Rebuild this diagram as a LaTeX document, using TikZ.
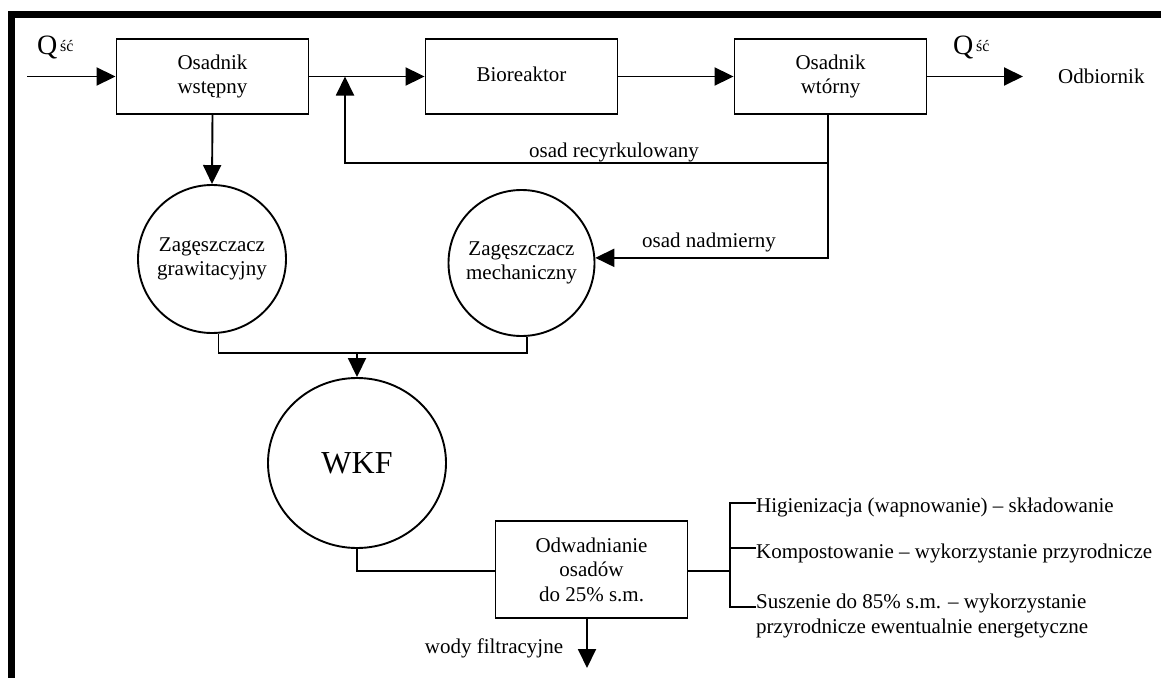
\documentclass[tikz,border=0pt]{standalone}
\usepackage{fontspec}
\setmainfont{Liberation Serif}
\usetikzlibrary{arrows.meta,shapes.geometric}
\begin{document}
\begin{tikzpicture}[x=1pt,y=-1pt,
  every node/.style={font=\fontsize{21}{24.5}\selectfont},
  ln/.style={line width=1.9pt},
  arr/.style={ln,-{Triangle[length=19pt,width=18pt]}},
  boxn/.style={draw,ln,rectangle,minimum width=192pt,inner sep=0pt,align=center},
  circn/.style={draw,ln,circle,inner sep=0pt,align=center},
  txt/.style={inner sep=0pt}
]
\useasboundingbox (0,0) rectangle (1161,677);
% frame
\draw[line width=7.5pt,line join=miter] (11.5,680) -- (11.5,14.5) -- (1170,14.5);

% top row boxes
\node[boxn,minimum height=75pt] (osw) at (212.5,76.5) {Osadnik\\wstępny};
\node[boxn,minimum height=75pt] (bio) at (521.5,76.5) {\raisebox{4pt}{Bioreaktor}};
\node[boxn,minimum height=75pt] (osw2) at (830.5,76.5) {Osadnik\\wtórny};

% circles
\node[circn,minimum size=148pt] (grav) at (212,259) {Zagęszczacz\\grawitacyjny};
\node[circn,minimum size=146pt] (mech) at (521.5,263) {Zagęszczacz\\mechaniczny};
\node[draw,ln,ellipse,inner sep=0pt,minimum width=178pt,minimum height=170pt,
      font=\fontsize{32}{36}\selectfont] (wkf) at (357,463) {WKF};

% dewatering box
\node[boxn,minimum height=97pt] (odw) at (591.5,569.5) {Odwadnianie\\osadów\\do 25\% s.m.};

% free labels
\node[txt,anchor=base west] (q1) at (37,55) {\fontsize{28}{28}\selectfont Q\fontsize{16}{16}\selectfont\,\raisebox{3pt}{ść}};
\node[txt,anchor=base west] (q2) at (953,55) {\fontsize{28}{28}\selectfont Q\fontsize{16}{16}\selectfont\,\raisebox{3pt}{ść}};
\node[txt,anchor=base west] (odb) at (1058,83) {Odbiornik};
\node[txt,anchor=base] (lrec) at (614,157) {osad recyrkulowany};
\node[txt,anchor=base] (lnad) at (709,247) {osad nadmierny};
\node[txt,anchor=base] (lwody) at (494,653) {wody filtracyjne};

\node[txt,anchor=base west] (h1) at (756,512) {Higienizacja (wapnowanie) – składowanie};
\node[txt,anchor=base west] (h2) at (756,558) {Kompostowanie – wykorzystanie przyrodnicze};
\node[txt,anchor=base west,align=left] (h3) at (756,633) {Suszenie do 85\% s.m. – wykorzystanie\\przyrodnicze ewentualnie energetyczne};

% coordinates
\coordinate (in) at (27,76.5);
\coordinate (out) at (1023,76.5);
\coordinate (j) at (345,76.5);
\coordinate (rc) at (828,163);
\coordinate (mg) at (218,353);
\coordinate (br) at (730,571);
\coordinate (bt) at (730,503);
\coordinate (bm) at (730,548);
\coordinate (bb) at (730,607);
\coordinate (wb) at (587,668);

% connectors
\draw[arr] (in) -- (osw.west);
\draw[arr] (osw.east) -- (bio.west);
\draw[arr] (bio.east) -- (osw2.west);
\draw[arr] (osw2.east) -- (out);
\draw[arr] (osw.south) -- (grav.north);
\draw[ln] (osw2.south -| rc) -- (rc);
\draw[arr] (rc) -| (j);
\draw[arr] (rc) |- (mech.4);
\draw[ln] (grav.-85) |- (mg) -| (mech.-86);
\draw[arr] (wkf.north |- mg) -- (wkf.north);
\draw[ln] (wkf.south) |- (odw.west |- br);
\draw[arr] (odw.south -| wb) -- (wb);
\draw[ln] (odw.east |- br) -- (br);
\draw[ln] (bt -| h1.west) -- (bt) -- (bb) -- (bb -| h3.west);
\draw[ln] (bm) -- (bm -| h2.west);
\end{tikzpicture}
\end{document}
